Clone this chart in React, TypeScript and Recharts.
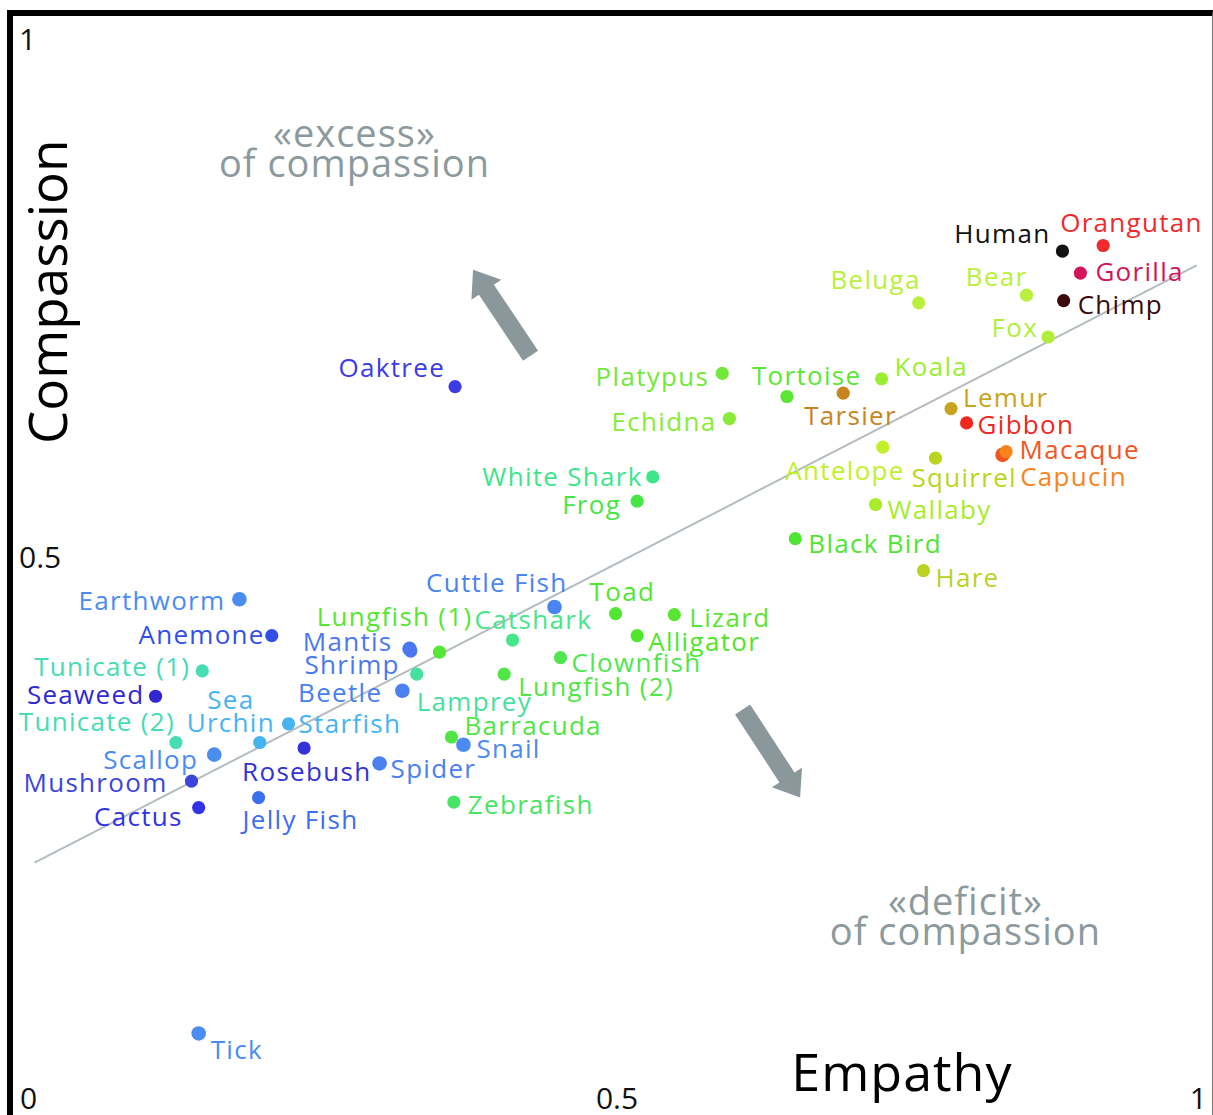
import React from 'react';
import { ScatterChart, Scatter, XAxis, YAxis, ReferenceLine, ReferenceDot } from 'recharts';

// ---------- data ----------
const animals = [
  'Human', 'Orangutan', 'Gorilla', 'Chimp', 'Bear', 'Beluga', 'Fox', 'Koala',
  'Platypus', 'Tortoise', 'Tarsier', 'Echidna', 'Lemur', 'Gibbon', 'Macaque', 'Capucin',
  'Antelope', 'Squirrel', 'White Shark', 'Frog', 'Wallaby', 'Black Bird', 'Hare',
  'Earthworm', 'Anemone', 'Tunicate (1)', 'Seaweed', 'Sea Urchin', 'Starfish', 'Tunicate (2)',
  'Scallop', 'Rosebush', 'Mushroom', 'Cactus', 'Jelly Fish', 'Cuttle Fish', 'Toad', 'Lizard',
  'Lungfish (1)', 'Catshark', 'Shrimp', 'Mantis', 'Lamprey', 'Beetle', 'Clownfish', 'Alligator',
  'Lungfish (2)', 'Barracuda', 'Snail', 'Spider', 'Zebrafish', 'Oaktree', 'Tick',
];
const empathy = [
  0.876, 0.910, 0.891, 0.877, 0.846, 0.756, 0.864, 0.725,
  0.592, 0.646, 0.693, 0.598, 0.783, 0.796, 0.826, 0.829,
  0.726, 0.770, 0.534, 0.521, 0.720, 0.653, 0.760,
  0.189, 0.216, 0.158, 0.119, 0.206, 0.230, 0.136,
  0.168, 0.243, 0.149, 0.155, 0.205, 0.452, 0.503, 0.552,
  0.356, 0.417, 0.332, 0.331, 0.337, 0.325, 0.457, 0.521,
  0.410, 0.366, 0.376, 0.306, 0.368, 0.369, 0.155,
];
const compassion = [
  0.784, 0.789, 0.764, 0.739, 0.744, 0.737, 0.706, 0.668,
  0.673, 0.652, 0.655, 0.632, 0.641, 0.628, 0.599, 0.602,
  0.606, 0.596, 0.579, 0.557, 0.554, 0.523, 0.494,
  0.468, 0.435, 0.403, 0.380, 0.338, 0.355, 0.338,
  0.327, 0.333, 0.303, 0.279, 0.288, 0.461, 0.455, 0.454,
  0.420, 0.431, 0.421, 0.423, 0.400, 0.385, 0.415, 0.435,
  0.400, 0.343, 0.336, 0.319, 0.284, 0.661, 0.074,
];
const xTicks = [0, 0.5, 1];
const yTicks = [0.5, 1];
const trendEmpathy = [0.018, 0.988];
const trendCompassion = [0.229, 0.771];
const excessArrowEmpathy = [0.432, 0.384];
const excessArrowCompassion = [0.689, 0.767];
const deficitArrowEmpathy = [0.609, 0.657];
const deficitArrowCompassion = [0.368, 0.288];
const excessNote = ['«excess»', 'of compassion'];
const deficitNote = ['«deficit»', 'of compassion'];
const excessNoteAt = [0.285, 0.877];
const deficitNoteAt = [0.795, 0.180];

const data = animals.map((name, i) => ({ name, x: empathy[i], y: compassion[i] }));

// ---------- styles ----------
const FONT = '"Open Sans", "Noto Sans", sans-serif';
const colors: Record<string, string> = {
  Human: '#111111', Orangutan: '#ef2b2d', Gorilla: '#d4145a', Chimp: '#3a0a0a',
  Beluga: '#b8f03c', Bear: '#b8f03c', Fox: '#b0ee3a', Koala: '#9cee32',
  Platypus: '#72e83a', Tortoise: '#5ce634', Tarsier: '#c8841e', Echidna: '#88ec38',
  Lemur: '#c8a41e', Gibbon: '#f0281e', Macaque: '#f2561e', Capucin: '#f8841e',
  Antelope: '#c0f02a', Squirrel: '#bad420', 'White Shark': '#3ce68a', Frog: '#46e646',
  Wallaby: '#a8ec2a', 'Black Bird': '#4ee632', Hare: '#bcd220',
  Earthworm: '#4a8cf0', Anemone: '#3250e8', 'Tunicate (1)': '#46dcb4', Seaweed: '#3228d2',
  'Sea Urchin': '#46b4f0', Starfish: '#46b4f0', 'Tunicate (2)': '#46dcb4', Scallop: '#4a8cf0',
  Rosebush: '#3232d8', Mushroom: '#3c46dc', Cactus: '#3232e6', 'Jelly Fish': '#3c6ef0',
  'Cuttle Fish': '#4a84f0', Toad: '#50e632', Lizard: '#58e632', 'Lungfish (1)': '#56e634',
  Catshark: '#46e68c', Mantis: '#4a78f0', Shrimp: '#4a78f0', Lamprey: '#46e0a0',
  Beetle: '#4a80f0', Clownfish: '#50e650', Alligator: '#50e62a', 'Lungfish (2)': '#50e646',
  Barracuda: '#50e646', Snail: '#4a8cf0', Spider: '#4a80f0', Zebrafish: '#46e664',
  Oaktree: '#3c3ce6', Tick: '#4a8cf0',
};
// [dx, dy (visual centre), anchor]
const labelPos: Record<string, [number, number, 'start' | 'middle' | 'end']> = {
  Human: [-12, -17, 'end'], Orangutan: [-43, -23, 'start'], Gorilla: [15, -1, 'start'],
  Chimp: [14, 4, 'start'], Bear: [1, -18, 'end'], Beluga: [2, -23, 'end'], Fox: [-10, -9, 'end'],
  Koala: [13, -12, 'start'], Platypus: [-13, 4, 'end'], Tortoise: [-35, -20, 'start'],
  Tarsier: [-39, 23, 'start'], Echidna: [-13, 3, 'end'], Lemur: [12, -11, 'start'],
  Gibbon: [11, 2, 'start'], Macaque: [17, -5, 'start'], Capucin: [14, 25, 'start'],
  Antelope: [22, 24, 'end'], Squirrel: [-24, 20, 'start'], 'White Shark': [-10, 0, 'end'],
  Frog: [-16, 4, 'end'], Wallaby: [12, 6, 'start'], 'Black Bird': [13, 5, 'start'],
  Hare: [12, 7, 'start'], Earthworm: [-14, 2, 'end'], Anemone: [-7, -1, 'end'],
  'Tunicate (1)': [-12, -4, 'end'], Seaweed: [-11, -1, 'end'], 'Sea Urchin': [-29, -43, 'middle'],
  Starfish: [10, 0, 'start'], 'Tunicate (2)': [-1, -21, 'end'], Scallop: [-16, 5, 'end'],
  Rosebush: [-62, 24, 'start'], Mushroom: [-24, 2, 'end'], Cactus: [-16, 9, 'end'],
  'Jelly Fish': [-16, 22, 'start'], 'Cuttle Fish': [13, -24, 'end'], Toad: [-26, -22, 'start'],
  Lizard: [15, 3, 'start'], 'Lungfish (1)': [33, -35, 'end'], Catshark: [-38, -20, 'start'],
  Mantis: [-17, -7, 'end'], Shrimp: [-11, 14, 'end'], Lamprey: [0, 28, 'start'],
  Beetle: [-20, 2, 'end'], Clownfish: [11, 5, 'start'], Alligator: [11, 6, 'start'],
  'Lungfish (2)': [14, 13, 'start'], Barracuda: [13, -11, 'start'], Snail: [13, 4, 'start'],
  Spider: [11, 6, 'start'], Zebrafish: [14, 3, 'start'], Oaktree: [-10, -19, 'end'],
  Tick: [12, 17, 'start'],
};
const labelLines: Record<string, string[]> = { 'Sea Urchin': ['Sea', 'Urchin'] };
const bigDots = new Set(['Earthworm', 'Cuttle Fish', 'Scallop', 'Spider', 'Mantis', 'Beetle', 'Snail', 'Tick', 'Macaque']);

const AnimalShape = (props: any) => {
  const { cx, cy } = props;
  const name: string = props.payload?.name ?? props.name;
  const [dx, dy, anchor] = labelPos[name] ?? [12, 0, 'start'];
  const lines = labelLines[name] ?? [name];
  const color = colors[name] ?? '#4a8cf0';
  const r = bigDots.has(name) ? 7.3 : 6.6;
  return (
    <g>
      <circle cx={cx} cy={cy} r={r} fill={color} />
      <text x={cx + dx} y={cy + dy + 9} textAnchor={anchor} fill={color}
        fontFamily={FONT} fontSize={26} letterSpacing={1.3}>
        {lines.map((l, i) => (
          <tspan key={i} x={cx + dx} dy={i === 0 ? 0 : 23}>{l}</tspan>
        ))}
      </text>
    </g>
  );
};

const arrowShape = (props: any) => {
  const { x1, y1, x2, y2 } = props;
  if ([x1, y1, x2, y2].some((v) => typeof v !== 'number' || isNaN(v))) return <g />;
  const len = Math.hypot(x2 - x1, y2 - y1);
  const ux = (x2 - x1) / len, uy = (y2 - y1) / len;
  const nx = -uy, ny = ux;
  const w = 9, h = 18, L = 24;
  const bx = x2 - ux * L, by = y2 - uy * L;
  const pts = [
    [x1 + nx * w, y1 + ny * w], [bx + nx * w, by + ny * w], [bx + nx * h, by + ny * h],
    [x2, y2], [bx - nx * h, by - ny * h], [bx - nx * w, by - ny * w], [x1 - nx * w, y1 - ny * w],
  ];
  return <polygon points={pts.map((p) => p.join(',')).join(' ')} fill="#8a979b" />;
};

const noteShape = (lines: string[]) => (props: any) => {
  const { cx, cy } = props;
  return (
    <text x={cx} y={cy} textAnchor="middle" fill="#8c9a9e" fontFamily={FONT} fontSize={38} letterSpacing={1}>
      <tspan x={cx} dy={-2}>{lines[0]}</tspan>
      <tspan x={cx} dy={30}>{lines[1]}</tspan>
    </text>
  );
};

const XTick = (props: any) => {
  const { x, y, payload } = props;
  const v = payload.value;
  const anchor = v === 0 ? 'start' : v === 1 ? 'end' : 'middle';
  const dx = v === 0 ? 7 : v === 1 ? -4 : 5;
  return (
    <text x={x + dx} y={y - 6} textAnchor={anchor} fontSize={30} fontFamily={FONT} fill="#111">{String(v)}</text>
  );
};
const YTick = (props: any) => {
  const { x, y, payload } = props;
  const v = payload.value;
  return (
    <text x={x + 6} y={v === 1 ? y + 37 : y + 4} textAnchor="start" fontSize={30} fontFamily={FONT} fill="#111">{String(v)}</text>
  );
};

const EmpathyTitle = (props: any) => {
  const vb = props.viewBox ?? { x: 13, y: 1115, width: 1198, height: 1 };
  return (
    <text x={vb.x + vb.width * 0.742} y={vb.y - 24} textAnchor="middle" fontSize={52} fontFamily={FONT} fill="#000" letterSpacing={1}>Empathy</text>
  );
};
const CompassionTitle = (props: any) => {
  const vb = props.viewBox ?? { x: 12, y: 13, width: 1, height: 1102 };
  const tx = vb.x + vb.width + 54;
  const ty = vb.y + vb.height * 0.253;
  return (
    <text x={tx} y={ty} textAnchor="middle" fontSize={53} fontFamily={FONT} fill="#000" transform={`rotate(-90, ${tx}, ${ty})`}>Compassion</text>
  );
};

export default function App() {
  return (
    <div style={{ position: 'absolute', left: 0, top: 0, width: 1213, height: 1115, background: '#fff', overflow: 'hidden' }}>
      <ScatterChart width={1213} height={1116} margin={{ top: 13, right: 2, bottom: 0, left: 12 }}>
        <XAxis type="number" dataKey="x" domain={[0, 1]} ticks={xTicks} interval={0} height={1}
          axisLine={false} tickLine={false} tickSize={0} tickMargin={0} tick={<XTick />}
          label={{ value: 'Empathy', content: <EmpathyTitle /> }} allowDataOverflow />
        <YAxis type="number" dataKey="y" domain={[0, 1]} ticks={yTicks} interval={0} width={1}
          axisLine={false} tickLine={false} tickSize={0} tickMargin={0} tick={<YTick />}
          label={{ value: 'Compassion', content: <CompassionTitle /> }} allowDataOverflow />
        <ReferenceLine segment={[{ x: trendEmpathy[0], y: trendCompassion[0] }, { x: trendEmpathy[1], y: trendCompassion[1] }]}
          stroke="#b4bcc0" strokeWidth={2} />
        <ReferenceLine segment={[{ x: excessArrowEmpathy[0], y: excessArrowCompassion[0] }, { x: excessArrowEmpathy[1], y: excessArrowCompassion[1] }]}
          shape={arrowShape} />
        <ReferenceLine segment={[{ x: deficitArrowEmpathy[0], y: deficitArrowCompassion[0] }, { x: deficitArrowEmpathy[1], y: deficitArrowCompassion[1] }]}
          shape={arrowShape} />
        <ReferenceDot x={excessNoteAt[0]} y={excessNoteAt[1]} r={0} shape={noteShape(excessNote)} />
        <ReferenceDot x={deficitNoteAt[0]} y={deficitNoteAt[1]} r={0} shape={noteShape(deficitNote)} />
        <Scatter data={data} shape={AnimalShape} isAnimationActive={false} />
      </ScatterChart>
      <div style={{
        position: 'absolute', left: 7, top: 10, width: 1206, height: 1105, boxSizing: 'border-box',
        borderTop: '6px solid #000', borderLeft: '6px solid #000', borderRight: '1px solid #777', pointerEvents: 'none',
      }} />
    </div>
  );
}
